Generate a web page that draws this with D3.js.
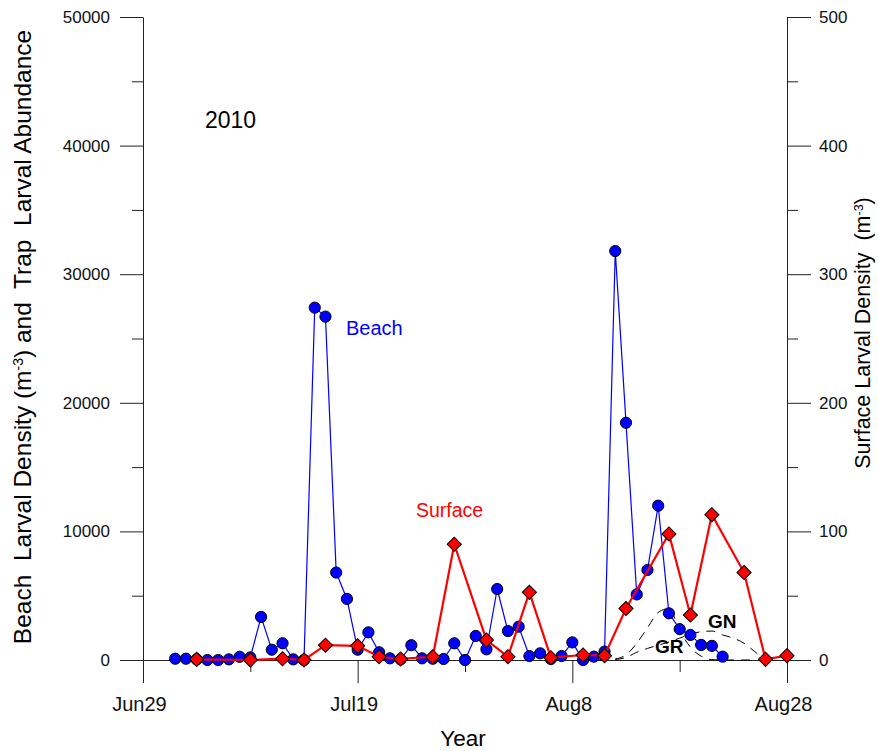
<!DOCTYPE html>
<html>
<head>
<meta charset="utf-8">
<script src="https://d3js.org/d3.v7.min.js"></script>
<style>
  body { margin: 0; background: #fff; }
  text { font-family: Arial, "Liberation Sans", sans-serif; }
</style>
</head>
<body>
<div id="chart"></div>
<script>
// Beach larval density (left axis), one sample per day
var beachDates = ["07-02","07-03","07-04","07-05","07-06","07-07","07-08","07-09","07-10","07-11",
                  "07-12","07-13","07-14","07-15","07-16","07-17","07-18","07-19","07-20","07-21",
                  "07-22","07-23","07-24","07-25","07-26","07-27","07-28","07-29","07-30","07-31",
                  "08-01","08-02","08-03","08-04","08-05","08-06","08-07","08-08","08-09","08-10",
                  "08-11","08-12","08-13","08-14","08-15","08-16","08-17","08-18","08-19","08-20",
                  "08-21","08-22"];
var beachValues = [100, 100, 50, 0, 0, 50, 250, 200, 3350, 800,
                   1300, 50, 0, 27400, 26700, 6800, 4750, 800, 2150, 600,
                   130, 50, 1150, 130, 100, 80, 1300, 0, 1870, 830,
                   5520, 2250, 2590, 310, 520, 80, 310, 1370, 0, 260,
                   650, 31800, 18450, 5100, 7000, 12000, 3630, 2400, 1950, 1170,
                   1100, 260];

// Surface larval density (right axis)
var surfaceDates = ["07-04","07-09","07-12","07-14","07-16","07-19","07-21","07-23","07-26","07-28",
                    "07-31","08-02","08-04","08-06","08-09","08-11","08-13","08-17","08-19","08-21",
                    "08-24","08-26","08-28"];
var surfaceValues = [0.5, 0, 1, 0, 11.5, 11, 2.5, 0.8, 2.5, 90,
                     15.5, 2.6, 52.6, 1.8, 3.9, 3.4, 40, 98, 35, 113,
                     68, 0.5, 3.4];

// Trap abundance curves (left axis, dashed)
var grDates = ["08-09","08-11","08-12","08-13","08-14","08-15","08-16","08-17","08-18","08-19","08-20","08-21","08-22","08-25"];
var grValues = [0, 0, 80, 400, 1300, 2500, 3700, 4000, 2300, 1000, 300, 30, 0, 0];
var gnDates = ["08-09","08-11","08-12","08-13","08-14","08-15","08-16","08-17","08-18","08-19","08-20","08-21","08-22","08-23","08-24","08-25","08-26","08-27"];
var gnValues = [0, 0, 40, 200, 600, 900, 1150, 1400, 1700, 2000, 2200, 2250, 1950, 1700, 1300, 650, 50, 0];

var xTickDates = ["06-29","07-19","08-08","08-28"];
var xMinorDates = ["07-09","07-29","08-18"];
var leftTicks = [0, 10000, 20000, 30000, 40000, 50000];
var leftMinor = [5000, 15000, 25000, 35000, 45000];
var rightTicks = [0, 100, 200, 300, 400, 500];
var rightMinor = [50, 150, 250, 350, 450];

var parse = d3.timeParse("%Y-%m-%d");
function dt(s) { return parse("2010-" + s); }

var width = 878, height = 751;
var x0 = 143, x1 = 787, yTop = 17, yBot = 660;

var svg = d3.select("#chart").append("svg")
    .attr("width", width)
    .attr("height", height);

var x = d3.scaleTime().domain([dt("06-29"), dt("08-28")]).range([x0, x1]);
var yL = d3.scaleLinear().domain([0, 50000]).range([yBot, yTop]);
var yR = d3.scaleLinear().domain([0, 500]).range([yBot, yTop]);

var axisColor = "#222";

// x axis on the zero line, ticks pointing down
var gx = svg.append("g").attr("transform", "translate(0," + yBot + ")")
    .call(d3.axisBottom(x).tickValues(xTickDates.map(dt)).tickSize(23).tickSizeOuter(0)
          .tickFormat(d3.timeFormat("%b%-d")));
gx.selectAll("text").attr("y", 51).attr("dy", 0).attr("dx", -4).style("font-size", "20px").attr("fill", "#111");
svg.append("g").attr("transform", "translate(0," + yBot + ")")
    .call(d3.axisBottom(x).tickValues(xMinorDates.map(dt)).tickSize(12).tickSizeOuter(0).tickFormat(""))
    .select(".domain").remove();

// left axis
var gl = svg.append("g").attr("transform", "translate(" + x0 + ",0)")
    .call(d3.axisLeft(yL).tickValues(leftTicks).tickSize(23).tickSizeOuter(0).tickPadding(10).tickFormat(d3.format("d")));
gl.selectAll("text").style("font-size", "17px").attr("fill", "#111");
svg.append("g").attr("transform", "translate(" + x0 + ",0)")
    .call(d3.axisLeft(yL).tickValues(leftMinor).tickSize(11).tickFormat(""))
    .select(".domain").remove();

// right axis
var gr = svg.append("g").attr("transform", "translate(" + x1 + ",0)")
    .call(d3.axisRight(yR).tickValues(rightTicks).tickSize(24).tickSizeOuter(0).tickPadding(8).tickFormat(d3.format("d")));
gr.selectAll("text").style("font-size", "17px").attr("fill", "#111");
svg.append("g").attr("transform", "translate(" + x1 + ",0)")
    .call(d3.axisRight(yR).tickValues(rightMinor).tickSize(11).tickFormat(""))
    .select(".domain").remove();

svg.selectAll(".domain, .tick line").attr("stroke", axisColor);

// dashed trap curves
var dashLine = d3.line().curve(d3.curveMonotoneX)
    .x(function(d) { return x(d.date); })
    .y(function(d) { return yL(d.value); });

[[grDates, grValues], [gnDates, gnValues]].forEach(function(s) {
    var pts = s[0].map(function(d, i) { return { date: dt(d), value: s[1][i] }; });
    svg.append("path").datum(pts)
       .attr("d", dashLine)
       .attr("fill", "none")
       .attr("stroke", "#000")
       .attr("stroke-width", 1)
       .attr("stroke-dasharray", "9,7");
});

// beach series
var beach = beachDates.map(function(d, i) { return { date: dt(d), value: beachValues[i] }; });
svg.append("path").datum(beach)
   .attr("d", d3.line().x(function(d) { return x(d.date); }).y(function(d) { return yL(d.value); }))
   .attr("fill", "none")
   .attr("stroke", "#0000ff")
   .attr("stroke-width", 1.2);
svg.selectAll("circle.beach").data(beach).enter().append("circle")
   .attr("class", "beach")
   .attr("cx", function(d) { return x(d.date); })
   .attr("cy", function(d) { return yL(d.value); })
   .attr("r", 5.6)
   .attr("fill", "#0000ff")
   .attr("stroke", "#000")
   .attr("stroke-width", 1);

// surface series
var surface = surfaceDates.map(function(d, i) { return { date: dt(d), value: surfaceValues[i] }; });
svg.append("path").datum(surface)
   .attr("d", d3.line().x(function(d) { return x(d.date); }).y(function(d) { return yR(d.value); }))
   .attr("fill", "none")
   .attr("stroke", "#ff0000")
   .attr("stroke-width", 2.2);
svg.selectAll("path.surface").data(surface).enter().append("path")
   .attr("class", "surface")
   .attr("d", d3.symbol().type(d3.symbolSquare).size(100))
   .attr("transform", function(d) { return "translate(" + x(d.date) + "," + yR(d.value) + ") rotate(45)"; })
   .attr("fill", "#ff0000")
   .attr("stroke", "#000")
   .attr("stroke-width", 1);

// labels
svg.append("text").attr("x", 205).attr("y", 128).style("font-size", "23px").text("2010");
svg.append("text").attr("x", 346).attr("y", 335).style("font-size", "20px").attr("fill", "#0000ff").text("Beach");
svg.append("text").attr("x", 416).attr("y", 517).style("font-size", "19.5px").attr("fill", "#ff0000").text("Surface");
svg.append("text").attr("x", 708).attr("y", 628).style("font-size", "19px").style("font-weight", "bold").text("GN");
svg.append("text").attr("x", 655).attr("y", 653).style("font-size", "19px").style("font-weight", "bold").text("GR");
svg.append("text").attr("x", 463).attr("y", 746).attr("text-anchor", "middle").style("font-size", "22.5px").text("Year");

// axis titles
var lt = svg.append("text")
    .attr("transform", "translate(31,337) rotate(-90)")
    .attr("text-anchor", "middle")
    .style("font-size", "24.5px")
    .style("white-space", "pre");
lt.append("tspan").text("Beach  Larval Density (m");
lt.append("tspan").attr("baseline-shift", "super").style("font-size", "14px").text("-3");
lt.append("tspan").text(") and  Trap  Larval Abundance");

var rt = svg.append("text")
    .attr("transform", "translate(870,333) rotate(-90)")
    .attr("text-anchor", "middle")
    .style("font-size", "21.5px")
    .style("white-space", "pre");
rt.append("tspan").text("Surface Larval Density  (m");
rt.append("tspan").attr("baseline-shift", "super").style("font-size", "12.5px").text("-3");
rt.append("tspan").text(")");
</script>
</body>
</html>
